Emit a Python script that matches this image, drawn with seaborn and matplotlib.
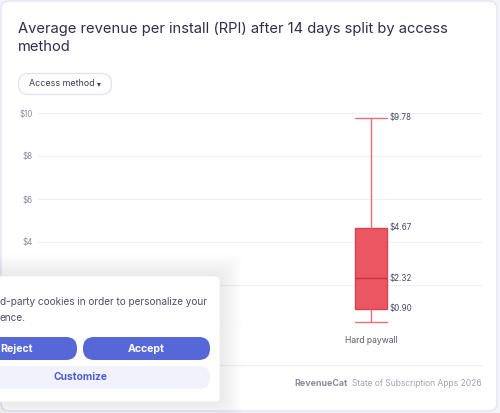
import matplotlib
matplotlib.use("Agg")
import matplotlib.pyplot as plt
from matplotlib.patches import FancyBboxPatch
import pandas as pd
import seaborn as sns

# data
categories = ["Freemium", "Hard paywall"]
box_category = "Hard paywall"
summary_values = [0.28, 0.90, 2.32, 4.67, 9.78]   # min, q1, median, q3, max
labelled_values = [9.78, 4.67, 2.32, 0.90]
y_ticks = [0, 2, 4, 6, 8, 10]
y_tick_labels = ["$0", "$2", "$4", "$6", "$8", "$10"]

TITLE = "Average revenue per install (RPI) after 14 days split by access\nmethod"
RED = "#ea5762"
RED_EDGE = "#d9424d"
TEXT_DARK = "#2e2e4d"
TEXT_GRAY = "#8b8ba0"
BLUE = "#5668d8"

df = pd.DataFrame({"method": box_category, "rpi": summary_values})

sns.set_theme(style="white")
plt.rcParams["font.family"] = ["Inter", "DejaVu Sans"]

W, H = 500, 413
fig = plt.figure(figsize=(W / 100, H / 100), dpi=100)
fig.patch.set_facecolor("#f4f5fb")

# card background
bg = fig.add_axes([0, 0, 1, 1], zorder=0)
bg.set_xlim(0, W)
bg.set_ylim(H, 0)
bg.axis("off")
bg.add_patch(FancyBboxPatch((1, 1), 496, 410, boxstyle="round,pad=0,rounding_size=8",
                            facecolor="white", edgecolor="#e3e5f5", linewidth=1))
bg.text(18, 51, TITLE, fontsize=10.6, color=TEXT_DARK, va="baseline", linespacing=1.32)
bg.add_patch(FancyBboxPatch((18.5, 73.5), 93, 21, boxstyle="round,pad=0,rounding_size=10",
                            facecolor="white", edgecolor="#e2e2ea", linewidth=0.9))
bg.text(29, 84, "Access method", fontsize=6.4, color="#3a3a55", va="center")
bg.text(97, 84.5, "\u25be", fontsize=5.5, color="#3a3a55", va="center")
bg.plot([38, 482], [365, 365], color="#efeff4", lw=0.9)
bg.text(348, 384, "RevenueCat", fontsize=6.4, color="#8d8d9c", weight="bold",
        va="center", ha="right")
bg.text(482, 384, "State of Subscription Apps 2026", fontsize=6.1, color="#a3a3b2",
        va="center", ha="right")

# chart
ax = fig.add_axes([38 / W, (H - 328) / H, 444 / W, 215 / H], zorder=1)
ax.patch.set_alpha(0)
sns.boxplot(data=df, x="method", y="rpi", order=categories, whis=(0, 100), width=0.14,
            color=RED, saturation=1, ax=ax,
            boxprops=dict(facecolor=RED, edgecolor=RED_EDGE, linewidth=1),
            medianprops=dict(color="#c9343f", linewidth=1),
            whiskerprops=dict(color="#e8707a", linewidth=1),
            capprops=dict(color="#e8707a", linewidth=1), capwidths=0.14)
ax.set_ylim(0, 10)
ax.set_yticks(y_ticks)
ax.set_yticklabels(y_tick_labels, fontsize=5.8, color=TEXT_GRAY)
ax.yaxis.grid(True, color="#f0f0f3", linewidth=0.9)
ax.set_axisbelow(True)
ax.tick_params(axis="y", length=0, pad=4)
ax.tick_params(axis="x", length=0, labelsize=6.2, labelcolor="#5a5a6e", pad=6)
ax.set_xlabel("")
ax.set_ylabel("")
for s in ax.spines.values():
    s.set_visible(False)
# the first category's label sits under the popup
ax.get_xticklabels()[0].set_visible(False)
xi = categories.index(box_category)
for v in labelled_values:
    ax.text(xi + 0.085, v, f"${v:.2f}", fontsize=5.8, color="#4a4a66", va="center",
            ha="left", clip_on=False)

# cookie popup overlay
ov = fig.add_axes([0, 0, 1, 1], zorder=2)
ov.set_xlim(0, W)
ov.set_ylim(H, 0)
ov.axis("off")
ov.patch.set_alpha(0)
for i in range(10):
    g = 2 + i * 2.2
    ov.add_patch(FancyBboxPatch((-20 - g, 276 - g), 240 + 2 * g, 126 + 2 * g,
                                boxstyle="round,pad=0,rounding_size=10",
                                facecolor="#7a7a90", edgecolor="none", alpha=0.012))
ov.add_patch(FancyBboxPatch((-20, 276), 240, 126, boxstyle="round,pad=0,rounding_size=5",
                            facecolor="white", edgecolor="#ececf2", linewidth=0.6))
ov.text(0, 302, "d-party cookies in order to personalize your", fontsize=7.2,
        color="#4f4f66", va="center")
ov.text(0, 318, "ence.", fontsize=7.2, color="#4f4f66", va="center")
ov.add_patch(FancyBboxPatch((-40, 337), 117, 23, boxstyle="round,pad=0,rounding_size=11",
                            facecolor=BLUE, edgecolor="none"))
ov.add_patch(FancyBboxPatch((83, 337), 127, 23, boxstyle="round,pad=0,rounding_size=11",
                            facecolor=BLUE, edgecolor="none"))
ov.add_patch(FancyBboxPatch((-40, 366), 250, 23, boxstyle="round,pad=0,rounding_size=11",
                            facecolor="#f1f2fc", edgecolor="none"))
ov.text(0.5, 348.5, "Reject", fontsize=7.6, color="white", weight="bold", ha="left", va="center")
ov.text(146.5, 348.5, "Accept", fontsize=7.6, color="white", weight="bold", ha="center", va="center")
ov.text(80, 377.5, "Customize", fontsize=7.4, color="#4c5fd6", weight="bold", ha="center", va="center")

fig.savefig("out.png", dpi=100)
